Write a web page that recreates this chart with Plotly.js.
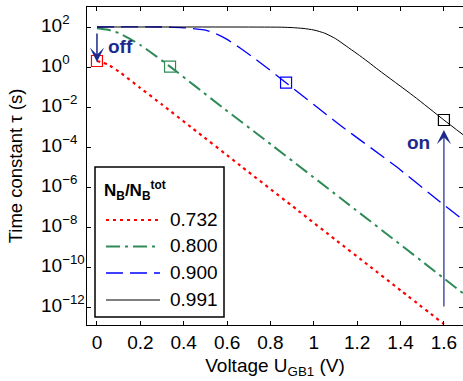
<!DOCTYPE html>
<html>
<head>
<meta charset="utf-8">
<script src="https://cdn.plot.ly/plotly-3.0.1.min.js"></script>
<style>html,body{margin:0;padding:0;background:#fff;}#chart{width:463px;height:381px;}</style>
</head>
<body>
<div id="chart"></div>
<script>
// ---- data ----
var seriesNames = ['0.732', '0.800', '0.900', '0.991'];

var xRed   = [0, 0.05, 0.11, 0.2, 0.3, 0.44, 0.66, 0.93, 1.1, 1.25, 1.4, 1.6];
var tauRed = [2.0, 1.32, 0.50, 0.089, 0.0132, 8.7e-4, 1.2e-5, 6.3e-8, 2.3e-9, 1.26e-10, 6.8e-12, 1.4e-13];

var xGreen   = [0, 0.05, 0.1, 0.15, 0.2, 0.275, 0.337, 0.45, 0.58, 0.77, 1.14, 1.6, 1.69];
var tauGreen = [87.1, 72.4, 50.1, 26.3, 12.6, 3.31, 1.05, 0.117, 9.3e-3, 2.5e-4, 2.0e-7, 2.7e-11, 4.7e-12];

var xBlue   = [0, 0.3, 0.4, 0.45, 0.5, 0.55, 0.6, 0.66, 0.71, 0.77, 0.87, 1.12, 1.38, 1.58, 1.69];
var tauBlue = [100, 100, 91.2, 81.3, 69.2, 45.7, 24.0, 8.91, 3.63, 1.20, 0.17, 1.26e-3, 1.05e-5, 1.86e-7, 2.24e-8];

var xBlack   = [0, 0.85, 0.9, 0.95, 1.0, 1.05, 1.1, 1.15, 1.2, 1.25, 1.3, 1.46, 1.6, 1.69];
var tauBlack = [100, 97.7, 93.3, 85.1, 70.8, 49.0, 26.3, 11.0, 4.57, 1.82, 0.69, 0.0355, 2.24e-3, 3.98e-4];

var markX   = [0, 0.337, 0.872, 1.6];
var markTau = [2.0, 1.05, 0.166, 2.24e-3];

var xTickVals = [0, 0.2, 0.4, 0.6, 0.8, 1, 1.2, 1.4, 1.6];
var xTickText = ['0', '0.2', '0.4', '0.6', '0.8', '1', '1.2', '1.4', '1.6'];
var yTickExps = [2, 0, -2, -4, -6, -8, -10, -12];

// arrows: "off" at U=0, "on" at U=1.6 (tau from / to)
var offArrow = {x: 0, tauFrom: 56, tauTo: 1.8};
var onArrow  = {x: 1.6, tauFrom: 8.9e-13, tauTo: 7.1e-4};

// ---- styles ----
var colors = ['#ff0000', '#2e8b57', '#0000ff', '#000000'];
var navy = '#1b2a8c';
var FONT = 'Liberation Sans, Arial, Helvetica, sans-serif';

var xs = [xRed, xGreen, xBlue, xBlack];
var ys = [tauRed, tauGreen, tauBlue, tauBlack];
var dashes = ['3px,4px', '14px,5px,3px,5px', '17px,7px', 'solid'];
var widths = [2.2, 2, 1.3, 1];

var traces = [];
for (var i = 0; i < 4; i++) {
  traces.push({
    x: xs[i], y: ys[i], type: 'scatter', mode: 'lines',
    name: seriesNames[i], showlegend: false,
    line: {color: colors[i], dash: dashes[i], width: widths[i], shape: 'spline', smoothing: 0.6},
    hoverinfo: 'skip'
  });
}
traces.push({
  x: markX, y: markTau, type: 'scatter', mode: 'markers', showlegend: false,
  marker: {symbol: 'square-open', size: 11, color: colors, line: {width: 1.2, color: colors}},
  hoverinfo: 'skip'
});

// paper-coordinate helpers for the legend box (plot area 376 x 318 px)
function px(p) { return (p - 87) / 376; }
function py(p) { return (325 - p) / 318; }

var annotations = [];
yTickExps.forEach(function (e) {
  annotations.push({
    xref: 'paper', yref: 'y', x: -0.128, y: e, xanchor: 'left', yanchor: 'middle',
    text: '10<sup>' + String(e).replace('-', '\u2212') + '</sup>', showarrow: false,
    font: {family: FONT, size: 19, color: '#000'}, yshift: 3
  });
});
annotations.push({
  xref: 'x', yref: 'y', axref: 'x', ayref: 'y',
  x: offArrow.x, y: Math.log10(offArrow.tauTo), ax: offArrow.x, ay: Math.log10(offArrow.tauFrom),
  text: '', showarrow: true, arrowhead: 3, arrowsize: 1.6, arrowwidth: 1.5, arrowcolor: navy, standoff: 0
});
annotations.push({
  xref: 'x', yref: 'y', axref: 'x', ayref: 'y',
  x: onArrow.x, y: Math.log10(onArrow.tauTo), ax: onArrow.x, ay: Math.log10(onArrow.tauFrom),
  text: '', showarrow: true, arrowhead: 3, arrowsize: 2, arrowwidth: 1.2, arrowcolor: navy, standoff: 0
});
annotations.push({
  xref: 'x', yref: 'y', x: 0.04, y: 1.05, xanchor: 'left', yanchor: 'middle',
  text: '<b>off</b>', showarrow: false, font: {family: FONT, size: 19, color: navy}
});
annotations.push({
  xref: 'x', yref: 'y', x: 1.547, y: -3.75, xanchor: 'right', yanchor: 'middle',
  text: '<b>on</b>', showarrow: false, font: {family: FONT, size: 19, color: navy}
});

// legend (drawn by hand so its spacing matches)
var shapes = [{
  type: 'rect', xref: 'paper', yref: 'paper', x0: px(95), x1: px(224), y0: py(317), y1: py(167),
  line: {color: '#000', width: 1.5}, fillcolor: '#fff', layer: 'above'
}];
var legendRows = [220, 246.5, 273, 300];
annotations.push({
  xref: 'paper', yref: 'paper', x: px(102), y: py(190), xanchor: 'left', yanchor: 'middle',
  text: '<b>N<sub>B</sub>/N<sub>B</sub><sup>tot</sup></b>', showarrow: false,
  font: {family: FONT, size: 17, color: '#000'}
});
for (var k = 0; k < 4; k++) {
  shapes.push({
    type: 'line', xref: 'paper', yref: 'paper', x0: px(106), x1: px(160), y0: py(legendRows[k]), y1: py(legendRows[k]),
    line: {color: colors[k], dash: dashes[k], width: widths[k]}, layer: 'above'
  });
  annotations.push({
    xref: 'paper', yref: 'paper', x: px(168), y: py(legendRows[k]), xanchor: 'left', yanchor: 'middle',
    text: seriesNames[k], showarrow: false, font: {family: FONT, size: 19, color: '#000'}, yshift: 1
  });
}

var layout = {
  width: 463, height: 381,
  margin: {l: 87, r: 0, t: 7, b: 56},
  paper_bgcolor: '#fff', plot_bgcolor: '#fff',
  font: {family: FONT, size: 19, color: '#000'},
  showlegend: false,
  xaxis: {
    range: [-0.046, 1.688], tickmode: 'array', tickvals: xTickVals, ticktext: xTickText,
    ticks: 'inside', ticklen: 4, tickcolor: '#000', mirror: 'ticks', showline: true,
    linecolor: '#000', linewidth: 1, showgrid: false, zeroline: false,
    tickfont: {family: FONT, size: 19},
    title: {text: 'Voltage U<sub>GB1</sub> (V)', font: {family: FONT, size: 19}, standoff: 6}
  },
  yaxis: {
    type: 'log', range: [-12.9, 3.0], tickmode: 'array',
    tickvals: yTickExps.map(function (e) { return Math.pow(10, e); }),
    showticklabels: false,
    ticks: 'inside', ticklen: 4, tickcolor: '#000', mirror: 'ticks', showline: true,
    linecolor: '#000', linewidth: 1, showgrid: false, zeroline: false,
    title: {text: 'Time constant \u03c4 (s)', font: {family: FONT, size: 18.5}, standoff: 58}
  },
  shapes: shapes,
  annotations: annotations
};

Plotly.newPlot('chart', traces, layout, {staticPlot: true, displayModeBar: false});
</script>
</body>
</html>
